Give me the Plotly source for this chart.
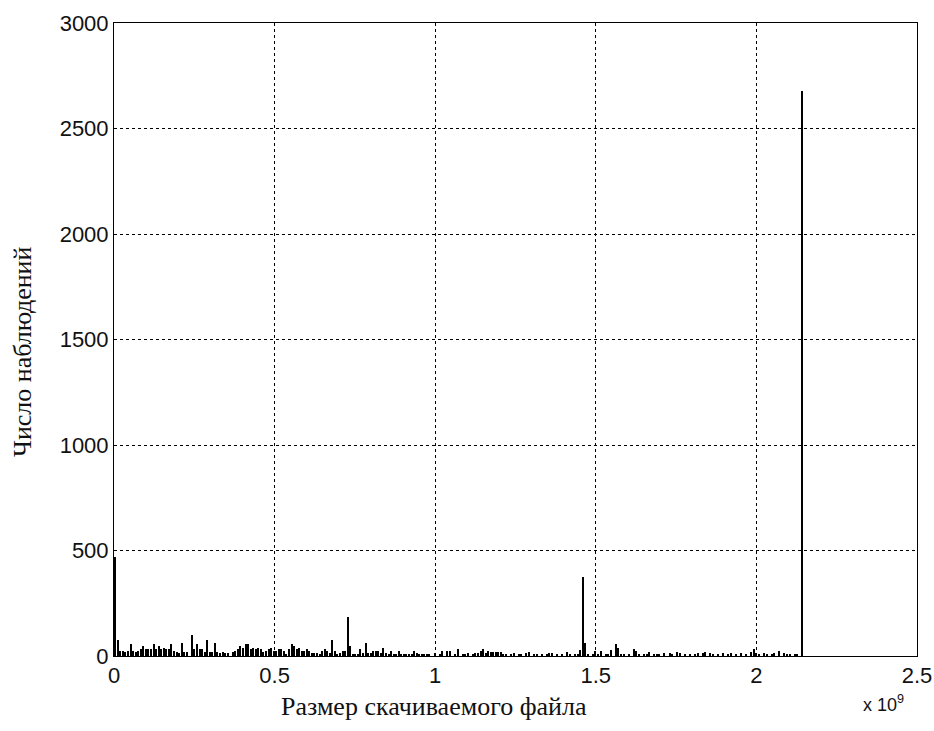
import plotly.graph_objects as go

# Histogram: 270 bins from 0 to 2.147e9 (x in units of 1e9)
n_bins = 270
bin_width = 2.147 / n_bins
bin_centers = [(k + 0.5) * bin_width for k in range(n_bins)]

# Counts (bin index -> count); unlisted bins are 0
count_by_bin = {
    0: 470, 1: 76, 2: 24, 3: 24, 4: 20, 5: 24, 6: 55, 7: 24, 8: 20, 9: 24,
    10: 32, 11: 47, 12: 32, 13: 32, 14: 32, 15: 55, 16: 32, 17: 47, 18: 32, 19: 40,
    20: 32, 21: 32, 22: 55, 23: 24, 24: 20, 25: 15, 26: 63, 27: 20, 28: 20, 30: 100,
    31: 32, 32: 55, 33: 32, 34: 32, 35: 20, 36: 76, 37: 20, 38: 20, 39: 63, 40: 20,
    41: 12, 42: 20, 43: 12, 44: 15, 46: 20, 47: 24, 48: 32, 49: 47, 50: 40,
    51: 55, 52: 55, 53: 32, 54: 40, 55: 32, 56: 40, 57: 32, 58: 20, 59: 24, 60: 32,
    61: 40, 62: 24, 63: 24, 64: 32, 65: 32, 66: 24, 67: 10, 68: 32, 69: 55, 70: 47,
    71: 32, 72: 40, 73: 24, 74: 24, 75: 32, 76: 24, 77: 15, 78: 15, 79: 15, 80: 10,
    81: 24, 82: 32, 83: 24, 84: 15, 85: 74, 86: 24, 87: 8, 88: 15, 89: 24, 90: 24,
    91: 183, 92: 47, 93: 8, 94: 8, 95: 10, 96: 32, 97: 15, 98: 63, 99: 15, 100: 15,
    101: 24, 102: 24, 103: 24, 104: 12, 105: 40, 106: 15, 107: 8, 108: 24, 109: 8, 110: 8,
    111: 24, 112: 8, 113: 8, 114: 8, 115: 5, 116: 8, 117: 24, 118: 15, 119: 5, 120: 8,
    121: 8, 122: 5, 123: 8, 125: 15, 127: 8, 128: 24, 130: 24,
    131: 24, 133: 8, 134: 32, 136: 8, 137: 8, 138: 12, 140: 8,
    141: 15, 142: 15, 143: 24, 144: 35, 145: 15, 146: 24, 147: 20, 148: 20, 149: 20, 150: 20,
    151: 20, 152: 8, 153: 8, 155: 8, 156: 12, 158: 8, 159: 8,
    161: 12, 162: 20, 164: 8, 165: 8, 167: 8, 169: 8, 170: 15,
    171: 12, 173: 8, 175: 8, 177: 20, 178: 8, 180: 8,
    181: 8, 182: 28, 183: 375, 184: 63, 185: 8, 187: 8, 188: 24, 189: 8, 190: 24,
    192: 8, 193: 8, 194: 28, 196: 55, 197: 40, 198: 8, 199: 8,
    201: 8, 203: 32, 204: 24, 205: 8, 207: 8, 208: 8, 209: 20,
    211: 8, 212: 8, 213: 8, 215: 15, 217: 15, 218: 8, 220: 20,
    221: 12, 223: 8, 225: 8, 227: 8, 228: 12, 230: 15,
    231: 20, 233: 12, 234: 8, 236: 8, 238: 15, 240: 8,
    241: 12, 243: 8, 245: 12, 247: 8, 249: 20, 250: 35,
    251: 12, 252: 8, 254: 12, 255: 8, 257: 8, 258: 15, 260: 24,
    262: 12, 263: 8, 264: 8, 266: 8, 267: 8, 269: 2680,
}
counts = [count_by_bin.get(k, 0) for k in range(n_bins)]

x_ticks = [0, 0.5, 1, 1.5, 2, 2.5]
x_tick_labels = ["0", "0.5", "1", "1.5", "2", "2.5"]
y_ticks = [0, 500, 1000, 1500, 2000, 2500, 3000]
y_tick_labels = ["0", "500", "1000", "1500", "2000", "2500", "3000"]

x_title = "Размер скачиваемого файла"
y_title = "Число наблюдений"

fig = go.Figure()
fig.add_trace(go.Bar(
    x=bin_centers, y=counts, width=bin_width * 0.4,
    marker=dict(color="black", line=dict(width=0)),
    showlegend=False,
))

axis_common = dict(
    showline=True, linecolor="black", linewidth=1, mirror=True,
    showgrid=True, gridcolor="black", gridwidth=1, griddash="3px,3px",
    zeroline=False, ticks="", ticklabeloverflow="allow",
    tickfont=dict(family="Liberation Sans, Arial", size=22, color="#111"),
)

# Plot area at x 114-917, y 23-656 in the 934x731 window
fig.update_layout(
    width=934, height=731,
    margin=dict(l=114, r=17, t=23, b=75, autoexpand=False),
    paper_bgcolor="white", plot_bgcolor="white",
    bargap=0,
    xaxis=dict(range=[0, 2.5], tickvals=x_ticks, ticktext=x_tick_labels, **axis_common),
    yaxis=dict(range=[0, 3000], tickvals=y_ticks, ticktext=y_tick_labels, **axis_common),
    annotations=[
        dict(text=x_title, xref="paper", yref="paper", x=(434 - 114) / 803, y=-(706 - 656) / 633,
             xanchor="center", yanchor="middle", showarrow=False,
             font=dict(family="Liberation Serif, Times New Roman", size=26, color="#111")),
        dict(text="x 10<sup>9</sup>", xref="paper", yref="paper", x=(883 - 114) / 803, y=-(704 - 656) / 633,
             xanchor="center", yanchor="middle", showarrow=False,
             font=dict(family="Liberation Sans, Arial", size=18, color="#111")),
        dict(text=y_title, xref="paper", yref="paper", x=-(114 - 22) / 803, y=(656 - 352) / 633,
             xanchor="center", yanchor="middle", showarrow=False, textangle=-90,
             font=dict(family="Liberation Serif, Times New Roman", size=26, color="#111")),
    ],
)

fig.write_html(
    "out.html",
    config={"displayModeBar": False},
    post_script="document.body.style.margin='0';document.body.style.overflow='hidden';",
)
